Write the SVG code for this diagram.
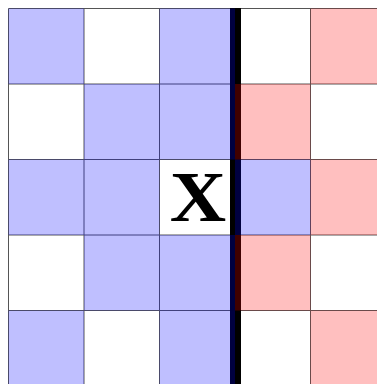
<svg xmlns="http://www.w3.org/2000/svg" width="377" height="384" viewBox="0 0 377 384">
<style>
.g line{stroke:#555;stroke-width:1}
.b{fill:#0000ff;fill-opacity:0.25}
.r{fill:#ff0000;fill-opacity:0.25}
</style>
<rect width="377" height="384" fill="#fff"/>
<g id="gridlines" class="g">
<line x1="8.5" y1="8.5" x2="377" y2="8.5"/>
<line x1="8.5" y1="84" x2="377" y2="84"/>
<line x1="8.5" y1="159.5" x2="377" y2="159.5"/>
<line x1="8.5" y1="235" x2="377" y2="235"/>
<line x1="8.5" y1="310.5" x2="377" y2="310.5"/>
<line x1="8.5" y1="8.5" x2="8.5" y2="384"/>
<line x1="84" y1="8.5" x2="84" y2="384"/>
<line x1="159.5" y1="8.5" x2="159.5" y2="384"/>
<line x1="310.5" y1="8.5" x2="310.5" y2="384"/>
</g>
<g id="divider"><line x1="235.5" y1="8" x2="235.5" y2="384" stroke="#000" stroke-width="11"/></g>
<g id="cells">
<rect class="b" x="8.5" y="8.5" width="75.5" height="75.5"/>
<rect class="b" x="159.5" y="8.5" width="75.5" height="75.5"/>
<rect class="r" x="310.5" y="8.5" width="75.5" height="75.5"/>
<rect class="b" x="84" y="84" width="75.5" height="75.5"/>
<rect class="b" x="159.5" y="84" width="75.5" height="75.5"/>
<rect class="r" x="235" y="84" width="75.5" height="75.5"/>
<rect class="b" x="8.5" y="159.5" width="75.5" height="75.5"/>
<rect class="b" x="84" y="159.5" width="75.5" height="75.5"/>
<rect class="b" x="235" y="159.5" width="75.5" height="75.5"/>
<rect class="r" x="310.5" y="159.5" width="75.5" height="75.5"/>
<rect class="b" x="84" y="235" width="75.5" height="75.5"/>
<rect class="b" x="159.5" y="235" width="75.5" height="75.5"/>
<rect class="r" x="235" y="235" width="75.5" height="75.5"/>
<rect class="b" x="8.5" y="310.5" width="75.5" height="75.5"/>
<rect class="b" x="159.5" y="310.5" width="75.5" height="75.5"/>
<rect class="r" x="310.5" y="310.5" width="75.5" height="75.5"/>
</g>
<g id="xcell">
<text x="0" y="0" transform="translate(198,220.5) scale(1.1,1)" font-family="'Liberation Serif', serif" font-weight="bold" font-size="71" text-anchor="middle" fill="#000">X</text>
</g>
</svg>
